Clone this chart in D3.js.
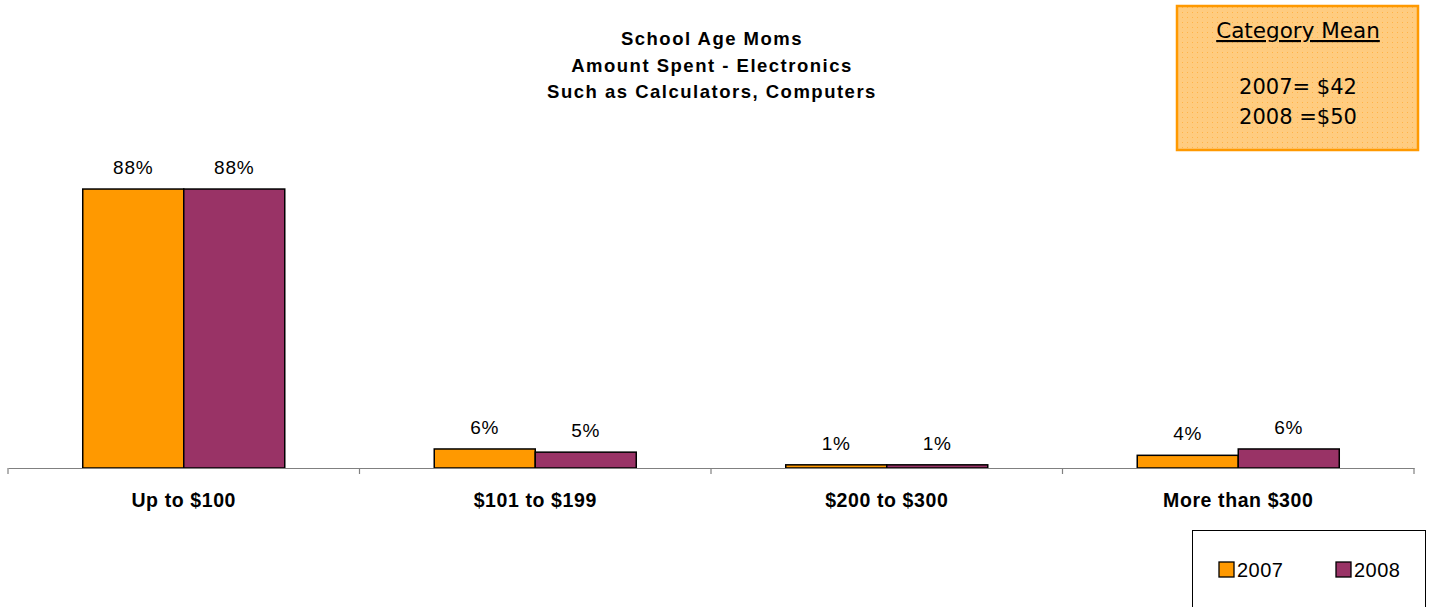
<!DOCTYPE html>
<html><head><meta charset="utf-8">
<script src="https://cdn.jsdelivr.net/npm/d3@7"></script>
<style>body{margin:0;background:#fff}svg{display:block}</style>
</head><body><svg id="c" width="1432" height="607"></svg>
<script>
const categories = ["Up to $100", "$101 to $199", "$200 to $300", "More than $300"];
const seriesNames = ["2007", "2008"];
const values2007 = [88, 6, 1, 4];
const values2008 = [88, 5, 1, 6];
const titleLines = ["School Age Moms", "Amount Spent - Electronics", "Such as Calculators, Computers"];
const meanLines = ["2007= $42", "2008 =$50"];
const colors = ["#FF9900", "#993366"];

const SANS = "'Liberation Sans', Arial, sans-serif";
const VERD = "'DejaVu Sans', Verdana, sans-serif";
const svg = d3.select("#c");
const x0 = 8, x1 = 1414, yBase = 468, yTop = 151;
const x = d3.scaleBand().domain(categories).range([x0, x1]).paddingInner(0).paddingOuter(0);
const xs = d3.scaleBand().domain(seriesNames).range([0, x.bandwidth()]).paddingInner(0).paddingOuter(0.74);
const y = d3.scaleLinear().domain([0, 100]).range([yBase, yTop]);

// title
svg.append("g").selectAll("text").data(titleLines).join("text")
  .attr("x", 712).attr("y", (d, i) => 45 + i * 26.5).attr("text-anchor", "middle")
  .style("font-family", SANS).style("letter-spacing", "1.5px")
  .attr("font-size", 18.5).attr("font-weight", "bold").text(d => d);

// bars
const data = categories.map((c, i) => ({c, vals: [values2007[i], values2008[i]]}));
const g = svg.append("g");
data.forEach(d => {
  d.vals.forEach((v, j) => {
    const bx = x(d.c) + xs(seriesNames[j]);
    g.append("rect").attr("x", bx).attr("y", y(v)).attr("width", xs.bandwidth()).attr("height", yBase - y(v))
      .attr("fill", colors[j]).attr("stroke", "#000").attr("stroke-width", 1.5);
    g.append("text").attr("x", bx + xs.bandwidth() / 2).attr("y", y(v) - 15)
      .attr("text-anchor", "middle").attr("font-size", 19).style("font-family", SANS)
      .style("letter-spacing", "0.8px").attr("fill", "#000").text(v + "%");
  });
});

// axis
const axis = d3.axisBottom(x).tickSize(0).tickPadding(0);
const ag = svg.append("g").attr("transform", `translate(0,${yBase})`).call(axis);
ag.select(".domain").attr("stroke", "#808080").attr("stroke-width", 1.2);
ag.selectAll(".tick text").attr("font-size", 19.5).attr("font-weight", "bold").attr("fill", "#000")
  .attr("dy", 0).attr("y", 39).style("font-family", SANS).style("letter-spacing", "0.6px");
const bounds = categories.map(c => x(c)).concat([x1]);
svg.append("g").selectAll("line").data(bounds).join("line")
  .attr("x1", d => d).attr("x2", d => d).attr("y1", yBase).attr("y2", yBase + 6)
  .attr("stroke", "#808080").attr("stroke-width", 1.2);

// legend
const lg = svg.append("g");
lg.append("rect").attr("x", 1192.5).attr("y", 530.5).attr("width", 233).attr("height", 90)
  .attr("fill", "#fff").attr("stroke", "#000").attr("stroke-width", 1);
const legX = [1219, 1336];
seriesNames.forEach((s, j) => {
  lg.append("rect").attr("x", legX[j]).attr("y", 562).attr("width", 15).attr("height", 15)
    .attr("fill", colors[j]).attr("stroke", "#000").attr("stroke-width", 1.3);
  lg.append("text").attr("x", legX[j] + 18).attr("y", 577).attr("font-size", 20)
    .style("font-family", SANS).style("letter-spacing", "0.5px").text(s);
});

// category mean box
const defs = svg.append("defs");
const pat = defs.append("pattern").attr("id", "dots").attr("width", 5).attr("height", 5).attr("patternUnits", "userSpaceOnUse");
pat.append("rect").attr("width", 5).attr("height", 5).attr("fill", "#FFCC80");
pat.append("rect").attr("x", 2).attr("y", 2).attr("width", 1).attr("height", 1).attr("fill", "#FFB347");
const mb = svg.append("g");
mb.append("rect").attr("x", 1177).attr("y", 6).attr("width", 241).attr("height", 144)
  .attr("fill", "url(#dots)").attr("stroke", "#FF9900").attr("stroke-width", 2.5);
mb.append("text").attr("x", 1298).attr("y", 38).attr("text-anchor", "middle")
  .attr("font-size", 21.5).style("font-family", VERD).attr("fill", "#000")
  .attr("text-decoration", "underline").text("Category Mean");
mb.selectAll("text.m").data(meanLines).join("text").attr("class", "m")
  .attr("x", 1298).attr("y", (d, i) => 94 + i * 30).attr("text-anchor", "middle")
  .attr("font-size", 21).style("font-family", VERD).text(d => d);
</script></body></html>
